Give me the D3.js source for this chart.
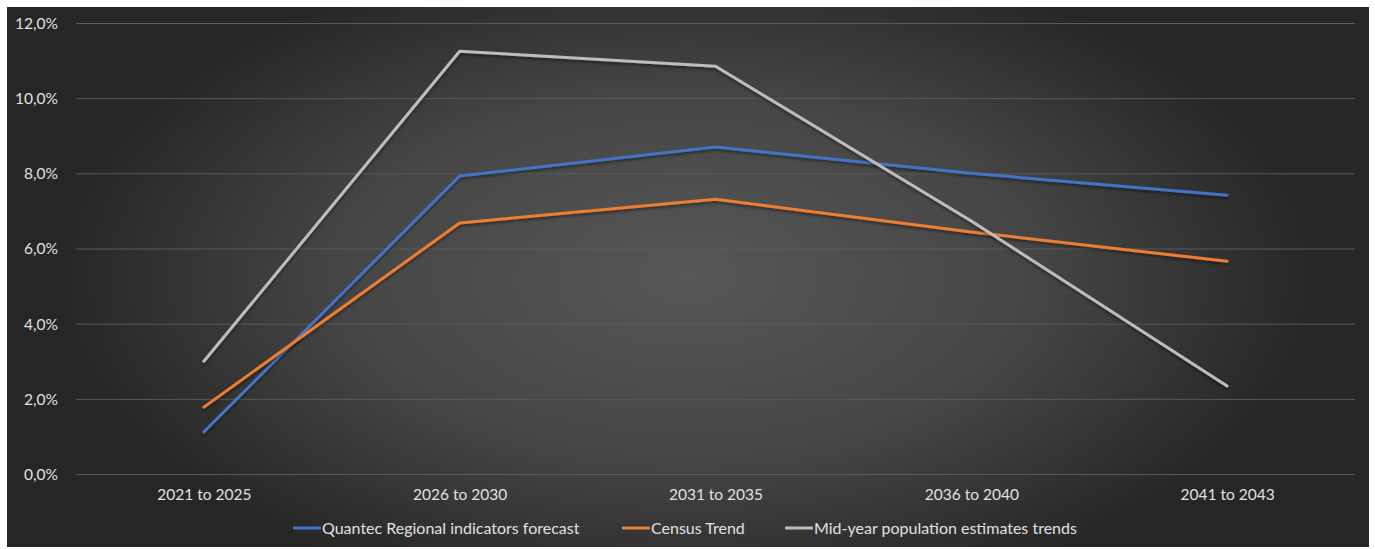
<!DOCTYPE html>
<html>
<head>
<meta charset="utf-8">
<script src="https://cdn.jsdelivr.net/npm/d3@7"></script>
<style>
  html, body { margin: 0; padding: 0; background: #ffffff; }
  svg { display: block; }
  text { font-family: Lato, "Open Sans", sans-serif; }
</style>
</head>
<body>
<svg id="chart" width="1375" height="549"></svg>
<script>
// Growth periods on the category axis
const periods = ["2021 to 2025", "2026 to 2030", "2031 to 2035", "2036 to 2040", "2041 to 2043"];

// Population growth per period (fraction) for each projection
const quantecValues = [0.0112, 0.0793, 0.0870, 0.0800, 0.0742];
const censusValues  = [0.0178, 0.0668, 0.0731, 0.0644, 0.0566];
const midYearValues = [0.0300, 0.1125, 0.1085, 0.0673, 0.0234];

const seriesNames  = ["Quantec Regional indicators forecast", "Census Trend", "Mid-year population estimates trends"];
const seriesColors = ["#4472c4", "#ed7d31", "#bdbdbd"];
const yTicks = [0, 0.02, 0.04, 0.06, 0.08, 0.10, 0.12];

const series = [quantecValues, censusValues, midYearValues].map((values, i) => ({
  name: seriesNames[i], color: seriesColors[i], values
}));

const svg = d3.select("#chart");
const panel = { x: 7, y: 7, w: 1362, h: 540 };
const plot = { left: 76, right: 1355, top: 23, bottom: 474 };

// Dark panel with a soft radial light in the middle
const defs = svg.append("defs");
const grad = defs.append("radialGradient")
  .attr("id", "bg").attr("cx", "50%").attr("cy", "50%").attr("r", "62%")
  .attr("gradientTransform", "translate(0.5,0.5) scale(0.75,1) translate(-0.5,-0.5)");
grad.append("stop").attr("offset", "0%").attr("stop-color", "#575757");
grad.append("stop").attr("offset", "55%").attr("stop-color", "#454545");
grad.append("stop").attr("offset", "100%").attr("stop-color", "#262626");

const shadow = defs.append("filter").attr("id", "shadow")
  .attr("x", "-5%").attr("y", "-5%").attr("width", "110%").attr("height", "120%");
shadow.append("feDropShadow").attr("dx", 0).attr("dy", 2).attr("stdDeviation", 1.5)
  .attr("flood-color", "#000").attr("flood-opacity", 0.45);

svg.append("rect")
  .attr("x", panel.x).attr("y", panel.y).attr("width", panel.w).attr("height", panel.h)
  .attr("fill", "url(#bg)");

const x = d3.scalePoint().domain(periods).range([plot.left, plot.right]).padding(0.5);
const y = d3.scaleLinear().domain([0, 0.12]).range([plot.bottom, plot.top]);

const fmt = v => d3.format(".1f")(v * 100).replace(".", ",") + "%";

// Horizontal gridlines
svg.append("g").selectAll("line").data(yTicks).join("line")
  .attr("x1", plot.left).attr("x2", plot.right)
  .attr("y1", d => y(d) + 0.5).attr("y2", d => y(d) + 0.5)
  .attr("stroke", "#5a5a5a").attr("stroke-width", 1);

// Value axis
const yAxis = svg.append("g")
  .attr("transform", `translate(${plot.left - 15},0)`)
  .call(d3.axisLeft(y).tickValues(yTicks).tickFormat(fmt).tickSize(0));
yAxis.select(".domain").remove();
yAxis.selectAll("text")
  .attr("fill", "#e0e0e0").attr("font-size", 15.5).attr("dy", "0.35em")
  .style("font-family", "Lato, 'Open Sans', sans-serif");

// Category axis
const xAxis = svg.append("g")
  .attr("transform", `translate(0,${plot.bottom})`)
  .call(d3.axisBottom(x).tickSize(0).tickPadding(15));
xAxis.select(".domain").remove();
xAxis.selectAll("text")
  .attr("fill", "#e0e0e0").attr("font-size", 15.5)
  .style("font-family", "Lato, 'Open Sans', sans-serif");

// Series lines
const line = d3.line().x((d, i) => x(periods[i])).y(d => y(d));
svg.append("g").selectAll("path").data(series).join("path")
  .attr("d", d => line(d.values))
  .attr("fill", "none")
  .attr("stroke", d => d.color)
  .attr("stroke-width", 3)
  .attr("stroke-linejoin", "round")
  .attr("stroke-linecap", "round")
  .attr("filter", "url(#shadow)");

// Legend
const legendY = 528;
const legendX = [293, 622, 785];
const leg = svg.append("g").selectAll("g").data(series).join("g")
  .attr("transform", (d, i) => `translate(${legendX[i]},${legendY})`);
leg.append("line")
  .attr("x1", 0).attr("x2", 28).attr("y1", 0).attr("y2", 0)
  .attr("stroke", d => d.color).attr("stroke-width", 3);
leg.append("text")
  .attr("x", 29).attr("y", 0).attr("dy", "0.35em")
  .attr("fill", "#e0e0e0").attr("font-size", 16)
  .text(d => d.name);
</script>
</body>
</html>
